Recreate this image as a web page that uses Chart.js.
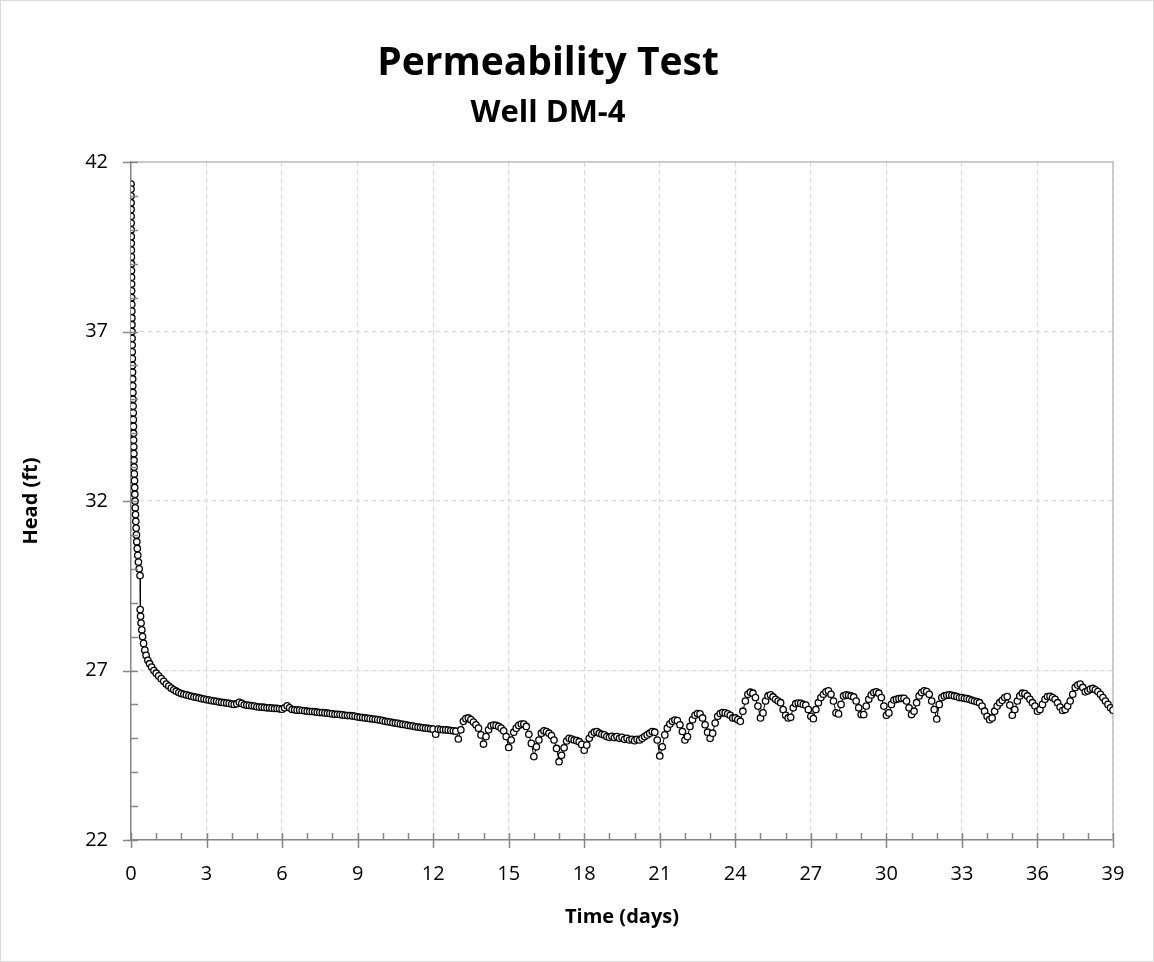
<!DOCTYPE html>
<html>
<head>
<meta charset="utf-8">
<script src="https://cdn.jsdelivr.net/npm/chart.js@4.4.1/dist/chart.umd.min.js"></script>
<style>
  body { margin: 0; background: #fff; }
  #wrap { width: 1152px; height: 960px; border: 1px solid #d9d9d9; }
</style>
</head>
<body>
<div id="wrap"><canvas id="myChart" width="1152" height="960"></canvas></div>
<script>
// titles
const chartTitle = 'Permeability Test';
const chartSubtitle = 'Well DM-4';
const xTitle = 'Time (days)';
const yTitle = 'Head (ft)';

// early drawdown (days, ft)
const drawdownDays = [
  0.000, 0.001, 0.002, 0.003, 0.004, 0.005, 0.007, 0.008, 0.010, 0.011,
  0.013, 0.015, 0.017, 0.019, 0.021, 0.023, 0.025, 0.027, 0.030, 0.032,
  0.035, 0.038, 0.040, 0.043, 0.046, 0.049, 0.053, 0.057, 0.061, 0.065,
  0.070, 0.075, 0.080, 0.084, 0.088, 0.092, 0.096, 0.100, 0.104, 0.109,
  0.114, 0.120, 0.126, 0.132, 0.139, 0.146, 0.153, 0.160, 0.170, 0.180,
  0.191, 0.203, 0.216, 0.230, 0.250, 0.270, 0.295, 0.325, 0.360,
  0.365, 0.38, 0.40, 0.43, 0.46, 0.50, 0.55, 0.60, 0.67, 0.74, 0.82, 0.91,
  1.0, 1.1, 1.2, 1.3, 1.4, 1.5, 1.6, 1.7, 1.8, 1.9
];
const drawdownHead = [
  41.35, 41.2, 41.0, 40.8, 40.6, 40.4, 40.2, 40.0, 39.8, 39.6,
  39.4, 39.2, 39.0, 38.8, 38.6, 38.4, 38.2, 38.0, 37.8, 37.6,
  37.4, 37.2, 37.0, 36.8, 36.6, 36.4, 36.2, 36.0, 35.8, 35.6,
  35.4, 35.2, 35.0, 34.8, 34.6, 34.4, 34.2, 34.0, 33.8, 33.6,
  33.4, 33.2, 33.0, 32.8, 32.6, 32.4, 32.2, 32.0, 31.8, 31.6,
  31.4, 31.2, 31.0, 30.8, 30.6, 30.4, 30.2, 30.0, 29.8,
  28.8, 28.6, 28.4, 28.2, 28.0, 27.8, 27.6, 27.45, 27.3, 27.2, 27.1, 27.0,
  26.92, 26.84, 26.76, 26.68, 26.6, 26.54, 26.48, 26.43, 26.39, 26.35
];

// rest of the record (days, ft)
const recordDays = [
  2.0,2.1,2.2,2.3,2.4,2.5,2.6,2.7,2.8,2.9,
  3.0,3.1,3.2,3.3,3.4,3.5,3.6,3.7,3.8,3.9,
  4.0,4.1,4.2,4.3,4.4,4.5,4.6,4.7,4.8,4.9,
  5.0,5.1,5.2,5.3,5.4,5.5,5.6,5.7,5.8,5.9,
  6.0,6.1,6.2,6.3,6.4,6.5,6.6,6.7,6.8,6.9,
  7.0,7.1,7.2,7.3,7.4,7.5,7.6,7.7,7.8,7.9,
  8.0,8.1,8.2,8.3,8.4,8.5,8.6,8.7,8.8,8.9,
  9.0,9.1,9.2,9.3,9.4,9.5,9.6,9.7,9.8,9.9,
  10.0,10.1,10.2,10.3,10.4,10.5,10.6,10.7,10.8,10.9,
  11.0,11.1,11.2,11.3,11.4,11.5,11.6,11.7,11.8,11.9,
  12.0,12.1,12.2,12.3,12.4,12.5,12.6,12.7,12.8,12.9,
  13.0,13.1,13.2,13.3,13.4,13.5,13.6,13.7,13.8,13.9,
  14.0,14.1,14.2,14.3,14.4,14.5,14.6,14.7,14.8,14.9,
  15.0,15.1,15.2,15.3,15.4,15.5,15.6,15.7,15.8,15.9,
  16.0,16.1,16.2,16.3,16.4,16.5,16.6,16.7,16.8,16.9,
  17.0,17.1,17.2,17.3,17.4,17.5,17.6,17.7,17.8,17.9,
  18.0,18.1,18.2,18.3,18.4,18.5,18.6,18.7,18.8,18.9,
  19.0,19.1,19.2,19.3,19.4,19.5,19.6,19.7,19.8,19.9,
  20.0,20.1,20.2,20.3,20.4,20.5,20.6,20.7,20.8,20.9,
  21.0,21.1,21.2,21.3,21.4,21.5,21.6,21.7,21.8,21.9,
  22.0,22.1,22.2,22.3,22.4,22.5,22.6,22.7,22.8,22.9,
  23.0,23.1,23.2,23.3,23.4,23.5,23.6,23.7,23.8,23.9,
  24.0,24.1,24.2,24.3,24.4,24.5,24.6,24.7,24.8,24.9,
  25.0,25.1,25.2,25.3,25.4,25.5,25.6,25.7,25.8,25.9,
  26.0,26.1,26.2,26.3,26.4,26.5,26.6,26.7,26.8,26.9,
  27.0,27.1,27.2,27.3,27.4,27.5,27.6,27.7,27.8,27.9,
  28.0,28.1,28.2,28.3,28.4,28.5,28.6,28.7,28.8,28.9,
  29.0,29.1,29.2,29.3,29.4,29.5,29.6,29.7,29.8,29.9,
  30.0,30.1,30.2,30.3,30.4,30.5,30.6,30.7,30.8,30.9,
  31.0,31.1,31.2,31.3,31.4,31.5,31.6,31.7,31.8,31.9,
  32.0,32.1,32.2,32.3,32.4,32.5,32.6,32.7,32.8,32.9,
  33.0,33.1,33.2,33.3,33.4,33.5,33.6,33.7,33.8,33.9,
  34.0,34.1,34.2,34.3,34.4,34.5,34.6,34.7,34.8,34.9,
  35.0,35.1,35.2,35.3,35.4,35.5,35.6,35.7,35.8,35.9,
  36.0,36.1,36.2,36.3,36.4,36.5,36.6,36.7,36.8,36.9,
  37.0,37.1,37.2,37.3,37.4,37.5,37.6,37.7,37.8,37.9,
  38.0,38.1,38.2,38.3,38.4,38.5,38.6,38.7,38.8,38.9,
  39.0
];
const recordHead = [
  26.32,26.30,26.28,26.26,26.24,26.22,26.21,26.19,26.17,26.16,
  26.14,26.13,26.11,26.10,26.09,26.07,26.06,26.05,26.04,26.03,
  26.01,26.00,26.02,26.06,26.03,25.99,25.98,25.97,25.96,25.95,
  25.93,25.92,25.92,25.91,25.90,25.90,25.89,25.88,25.88,25.87,
  25.86,25.90,25.96,25.90,25.85,25.84,25.83,25.83,25.82,25.81,
  25.80,25.79,25.79,25.78,25.77,25.76,25.76,25.75,25.74,25.73,
  25.72,25.71,25.71,25.70,25.69,25.68,25.67,25.67,25.66,25.65,
  25.63,25.62,25.61,25.60,25.59,25.58,25.57,25.56,25.55,25.54,
  25.52,25.50,25.49,25.48,25.46,25.45,25.44,25.42,25.41,25.40,
  25.38,25.37,25.36,25.34,25.33,25.32,25.31,25.30,25.29,25.28,
  25.27,25.12,25.27,25.26,25.25,25.25,25.24,25.23,25.22,25.21,
  24.98,25.25,25.50,25.58,25.60,25.55,25.48,25.40,25.30,25.10,
  24.83,25.05,25.25,25.37,25.39,25.38,25.35,25.30,25.22,25.05,
  24.73,24.95,25.18,25.30,25.38,25.42,25.42,25.35,25.12,24.85,
  24.46,24.75,24.95,25.15,25.22,25.20,25.15,25.08,24.95,24.70,
  24.31,24.50,24.72,24.92,25.00,24.98,24.95,24.93,24.90,24.82,
  24.65,24.80,25.00,25.12,25.18,25.20,25.15,25.12,25.10,25.05,
  25.03,25.06,25.02,25.05,25.00,25.03,24.97,25.00,24.95,24.97,
  24.93,24.97,24.95,25.00,25.05,25.10,25.15,25.20,25.18,24.95,
  24.48,24.75,25.10,25.30,25.42,25.50,25.54,25.52,25.40,25.20,
  24.95,25.05,25.35,25.55,25.68,25.73,25.72,25.60,25.40,25.18,
  25.00,25.15,25.45,25.65,25.73,25.76,25.75,25.72,25.68,25.60,
  25.60,25.55,25.50,25.80,26.10,26.30,26.36,26.33,26.20,25.95,
  25.60,25.75,26.10,26.25,26.28,26.22,26.15,26.10,26.05,25.85,
  25.68,25.60,25.62,25.90,26.02,26.04,26.03,26.00,25.98,25.85,
  25.65,25.58,25.85,26.05,26.20,26.30,26.37,26.40,26.30,26.10,
  25.75,25.72,26.00,26.25,26.28,26.27,26.25,26.22,26.10,25.90,
  25.70,25.70,25.95,26.15,26.28,26.35,26.37,26.33,26.20,25.95,
  25.68,25.75,26.00,26.13,26.15,26.17,26.18,26.18,26.10,25.90,
  25.70,25.80,26.05,26.25,26.35,26.40,26.38,26.30,26.10,25.85,
  25.57,26.00,26.20,26.25,26.27,26.28,26.27,26.25,26.23,26.20,
  26.20,26.18,26.17,26.15,26.12,26.10,26.08,26.05,25.95,25.80,
  25.65,25.55,25.60,25.80,25.95,26.05,26.12,26.20,26.23,25.98,
  25.68,25.85,26.10,26.25,26.33,26.32,26.25,26.15,26.05,25.95,
  25.80,25.85,26.00,26.15,26.23,26.24,26.20,26.15,26.05,25.92,
  25.82,25.85,25.95,26.10,26.30,26.50,26.57,26.60,26.50,26.37,
  26.40,26.45,26.47,26.43,26.38,26.30,26.20,26.10,26.00,25.90,
  25.83
];

// axis ranges
const xMin = 0, xMax = 39, xStep = 3;
const yMin = 22, yMax = 42, yStep = 5;

const points = [];
drawdownDays.forEach((t, i) => points.push({ x: t, y: drawdownHead[i] }));
recordDays.forEach((t, i) => points.push({ x: t, y: recordHead[i] }));

const axisGray = '#868686';
const font = 'Open Sans';

// title block, drawn above the plot
const titles = {
    id: 'titles',
    afterDraw(chart) {
        const ctx = chart.ctx;
        ctx.save();
        ctx.fillStyle = '#000';
        ctx.textAlign = 'center';
        ctx.textBaseline = 'alphabetic';
        ctx.font = 'bold 39px "' + font + '"';
        ctx.fillText(chartTitle, 547, 74);
        ctx.font = 'bold 31px "' + font + '"';
        ctx.fillText(chartSubtitle, 547, 121);
        ctx.restore();
    }
};

// plot frame (top/right) + excel style major/minor tick marks
const frame = {
    id: 'frame',
    beforeDatasetsDraw(chart) {
        const { ctx, chartArea: a } = chart;
        ctx.save();
        ctx.strokeStyle = '#c0c0c0';
        ctx.lineWidth = 1.5;
        ctx.beginPath();
        ctx.moveTo(a.left, a.top);
        ctx.lineTo(a.right, a.top);
        ctx.lineTo(a.right, a.bottom);
        ctx.stroke();
        ctx.restore();
    },
    afterDraw(chart) {
        const { ctx, chartArea: a, scales: { x, y } } = chart;
        ctx.save();
        ctx.strokeStyle = axisGray;
        ctx.lineWidth = 1.5;
        ctx.beginPath();
        for (let d = xMin; d <= xMax; d++) {
            const px = Math.round(x.getPixelForValue(d)) + 0.5;
            ctx.moveTo(px, a.bottom - 7);
            ctx.lineTo(px, a.bottom + (d % xStep === 0 ? 8 : 0));
        }
        for (let h = yMin; h <= yMax; h++) {
            const py = Math.round(y.getPixelForValue(h)) + 0.5;
            ctx.moveTo(a.left + 7, py);
            ctx.lineTo(a.left - ((h - yMin) % yStep === 0 ? 8 : 0), py);
        }
        ctx.stroke();
        ctx.restore();
    }
};

const config = {
    type: 'scatter',
    data: {
        datasets: [{
            label: 'Head',
            data: points,
            showLine: true,
            borderColor: '#000',
            borderWidth: 1,
            pointRadius: 3.2,
            pointBorderWidth: 1.3,
            pointBorderColor: '#000',
            pointBackgroundColor: '#fff'
        }]
    },
    options: {
        responsive: false,
        animation: false,
        layout: { padding: { top: 161, right: 40, left: 0, bottom: 0 } },
        plugins: {
            legend: { display: false },
            tooltip: { enabled: false }
        },
        scales: {
            x: {
                type: 'linear',
                min: xMin,
                max: xMax,
                ticks: { stepSize: xStep, color: '#000', padding: 22, font: { family: font, size: 20 } },
                grid: { color: '#d9d9d9', lineWidth: 1.2, drawTicks: false },
                border: { color: axisGray, width: 1.5, dash: [5, 3] },
                title: { display: true, text: xTitle, color: '#000', padding: { bottom: 32 }, font: { family: font, size: 20, weight: 'bold' } },
                afterFit(s) { s.height = 121; }
            },
            y: {
                min: yMin,
                max: yMax,
                ticks: { stepSize: yStep, color: '#000', padding: 23, font: { family: font, size: 20 } },
                grid: { color: '#d9d9d9', lineWidth: 1.2, drawTicks: false },
                border: { color: axisGray, width: 1.5, dash: [5, 3] },
                title: { display: true, text: yTitle, color: '#000', padding: { top: 18 }, font: { family: font, size: 20, weight: 'bold' } },
                afterFit(s) { s.width = 130; }
            }
        }
    },
    plugins: [frame, titles]
};

const myChart = new Chart(document.getElementById('myChart'), config);
</script>
</body>
</html>
